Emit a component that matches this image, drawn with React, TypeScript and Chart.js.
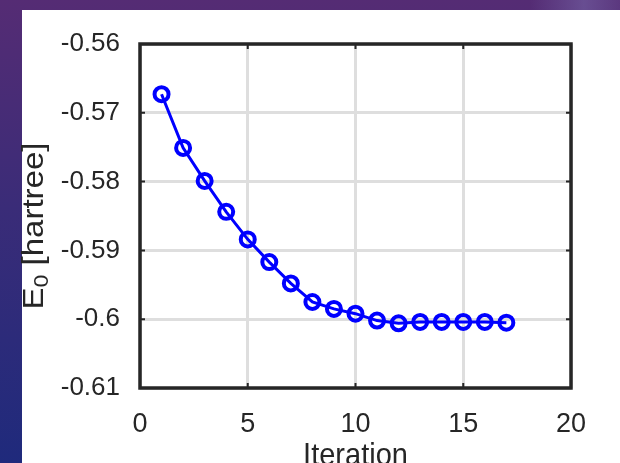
import React, { useEffect, useRef } from 'react';
import { Chart, registerables } from 'chart.js';

Chart.register(...registerables);

const iterations = [1, 2, 3, 4, 5, 6, 7, 8, 9, 10, 11, 12, 13, 14, 15, 16, 17];
const energies = [
  -0.5673, -0.5751, -0.5799, -0.5844, -0.5884, -0.5917, -0.5948, -0.5975, -0.5985,
  -0.5992, -0.6002, -0.6006, -0.6004, -0.6004, -0.6004, -0.6004, -0.6005,
];
const xTicks = [0, 5, 10, 15, 20];
const yTicks = [-0.61, -0.6, -0.59, -0.58, -0.57, -0.56];
const xTitle = 'Iteration';
const yTitleMain = 'E';
const yTitleSub = '0';
const yTitleRest = ' [hartree]';

const FONT = '"Liberation Sans", Arial, Helvetica, sans-serif';
const AXIS_COLOR = '#262626';

const boxPlugin = {
  id: 'matlabBox',
  afterDraw(chart: any) {
    const { ctx, chartArea } = chart;
    const { left, right, top, bottom } = chartArea;
    const xs = chart.scales.x;
    const ys = chart.scales.y;
    ctx.save();
    // inward tick marks
    ctx.strokeStyle = AXIS_COLOR;
    ctx.lineWidth = 2;
    ctx.beginPath();
    xTicks.forEach((v) => {
      const px = xs.getPixelForValue(v);
      ctx.moveTo(px, bottom);
      ctx.lineTo(px, bottom - 5);
      ctx.moveTo(px, top);
      ctx.lineTo(px, top + 5);
    });
    yTicks.forEach((v) => {
      const py = ys.getPixelForValue(v);
      ctx.moveTo(left, py);
      ctx.lineTo(left + 5, py);
      ctx.moveTo(right, py);
      ctx.lineTo(right - 5, py);
    });
    ctx.stroke();
    // box
    ctx.lineWidth = 3.5;
    ctx.strokeRect(left, top, right - left, bottom - top);

    // x title
    ctx.fillStyle = AXIS_COLOR;
    ctx.font = `29px ${FONT}`;
    ctx.textAlign = 'center';
    ctx.textBaseline = 'alphabetic';
    ctx.save();
    ctx.translate((left + right) / 2, 465);
    ctx.scale(1, 1.06);
    ctx.fillText(xTitle, 0, 0);
    ctx.restore();

    // y title (rotated, with subscript)
    ctx.translate(35, 226);
    ctx.rotate(-Math.PI / 2);
    ctx.scale(1.1, 1);
    ctx.textAlign = 'left';
    ctx.textBaseline = 'middle';
    const mainFont = `30px ${FONT}`;
    const subFont = `21px ${FONT}`;
    ctx.font = mainFont;
    const wE = ctx.measureText(yTitleMain).width;
    const wR = ctx.measureText(yTitleRest).width;
    ctx.font = subFont;
    const wS = ctx.measureText(yTitleSub).width;
    const total = wE + wS + wR;
    let x0 = -total / 2;
    ctx.font = mainFont;
    ctx.fillText(yTitleMain, x0, 0);
    x0 += wE;
    ctx.font = subFont;
    ctx.fillText(yTitleSub, x0, 7);
    x0 += wS;
    ctx.font = mainFont;
    ctx.fillText(yTitleRest, x0, 0);
    ctx.restore();
  },
};

export default function App() {
  const canvasRef = useRef<HTMLCanvasElement | null>(null);

  useEffect(() => {
    const canvas = canvasRef.current;
    if (!canvas) return;
    const chart = new Chart(canvas, {
      type: 'line',
      data: {
        datasets: [
          {
            data: iterations.map((x, i) => ({ x, y: energies[i] })),
            borderColor: '#0000ff',
            borderWidth: 3,
            backgroundColor: 'rgba(0,0,0,0)',
            pointRadius: 7,
            pointBorderWidth: 4,
            pointBorderColor: '#0000ff',
            pointBackgroundColor: 'rgba(0,0,0,0)',
            pointStyle: 'circle',
            fill: false,
            tension: 0,
          },
        ],
      },
      options: {
        animation: false,
        responsive: false,
        maintainAspectRatio: false,
        events: [],
        layout: { padding: { left: 0, top: 44, right: 49, bottom: 0 } },
        plugins: { legend: { display: false }, tooltip: { enabled: false }, title: { display: false } },
        scales: {
          x: {
            type: 'linear',
            min: 0,
            max: 20,
            afterBuildTicks: (scale: any) => {
              scale.ticks = xTicks.map((v) => ({ value: v }));
            },
            afterFit: (scale: any) => {
              scale.height = 75;
            },
            ticks: {
              autoSkip: false,
              maxRotation: 0,
              padding: 20,
              color: AXIS_COLOR,
              font: { family: FONT, size: 27 },
              callback: (v: any) => String(v),
            },
            grid: { color: '#dedede', lineWidth: 3, drawTicks: false },
            border: { display: false },
          },
          y: {
            type: 'linear',
            min: -0.61,
            max: -0.56,
            afterBuildTicks: (scale: any) => {
              scale.ticks = yTicks.map((v) => ({ value: v }));
            },
            afterFit: (scale: any) => {
              scale.width = 140;
            },
            ticks: {
              autoSkip: false,
              padding: 20,
              color: AXIS_COLOR,
              font: { family: FONT, size: 26 },
              callback: (v: any) => String(v),
            },
            grid: { color: '#dedede', lineWidth: 3, drawTicks: false },
            border: { display: false },
          },
        },
      },
      plugins: [boxPlugin],
    });
    return () => chart.destroy();
  }, []);

  return (
    <div
      style={{
        position: 'fixed',
        left: 0,
        top: 0,
        width: 620,
        height: 463,
        overflow: 'hidden',
        background: 'linear-gradient(to bottom, #552c74 0%, #3a2c78 45%, #1f2a7c 100%)',
      }}
    >
      <div
        style={{
          position: 'absolute',
          right: 0,
          top: 0,
          width: 90,
          height: 12,
          background: 'linear-gradient(to right, rgba(120,105,170,0) 0%, rgba(120,105,170,0.55) 60%, rgba(120,105,170,0.2) 100%)',
        }}
      />
      <div
        style={{
          position: 'absolute',
          left: 22,
          top: 10,
          right: 0,
          bottom: 0,
          background: '#ffffff',
        }}
      />
      <canvas
        ref={canvasRef}
        width={620}
        height={463}
        style={{ position: 'absolute', left: 0, top: 0, width: 620, height: 463 }}
      />
    </div>
  );
}
